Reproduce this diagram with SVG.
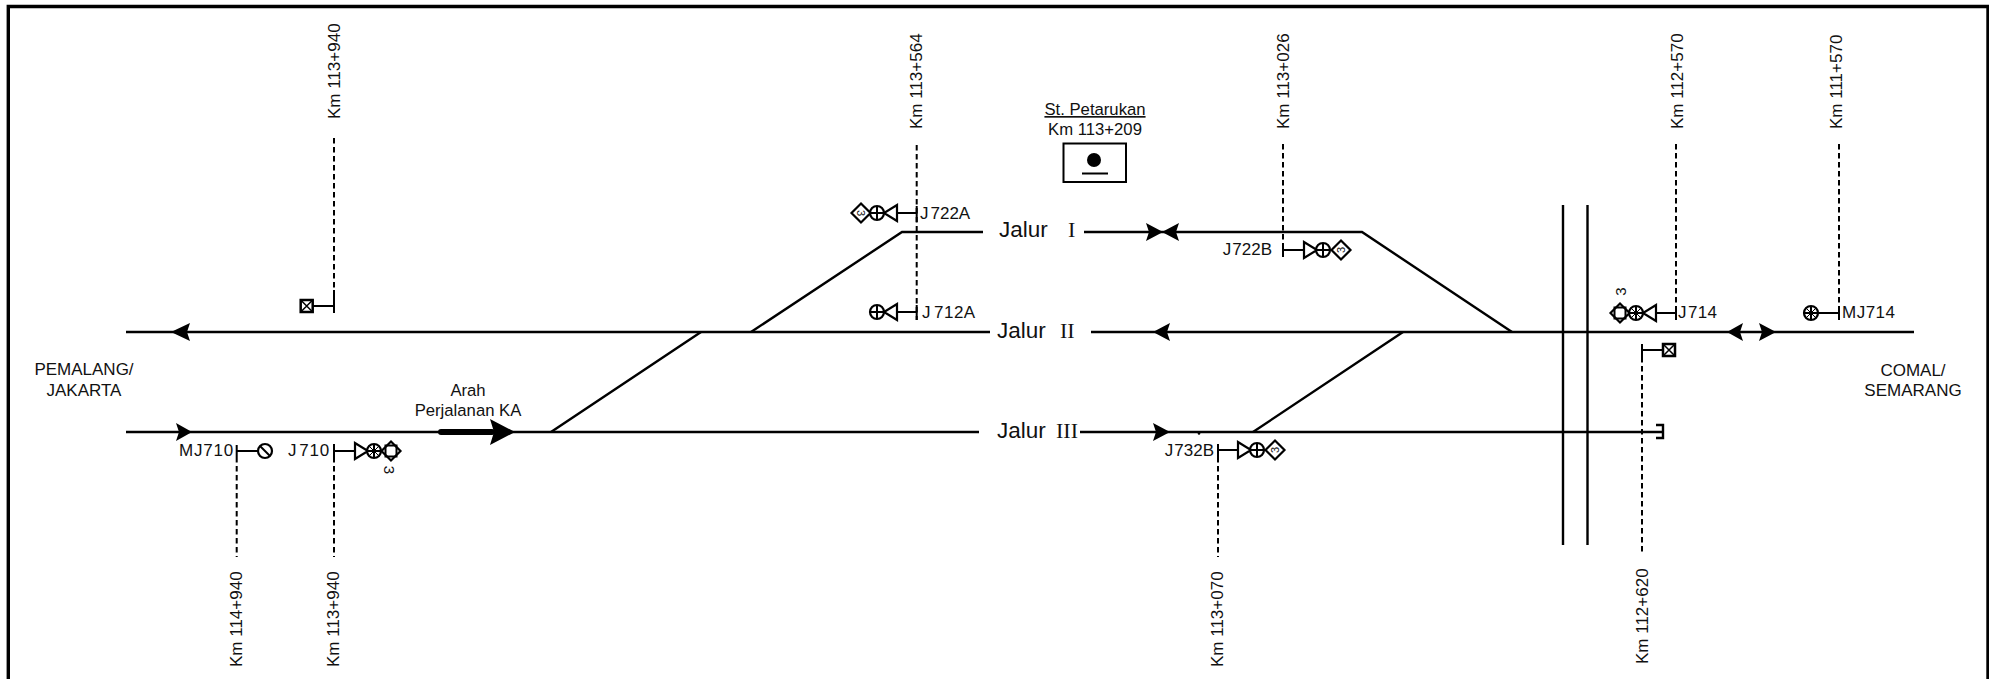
<svg xmlns="http://www.w3.org/2000/svg" width="1989" height="679" viewBox="0 0 1989 679">
<style>
text{font-family:"Liberation Sans",Arial,sans-serif;font-size:17px;fill:#111}
.jl{font-size:22.500px}
.rm{font-family:"Liberation Serif","Times New Roman",serif;font-size:22px}
.sm{font-size:16.700px}
.mid{text-anchor:middle}
.end{text-anchor:end}
.t{fill:none;stroke:#000;stroke-width:2.400}
.s{fill:none;stroke:#000;stroke-width:2}
.d{fill:none;stroke:#000;stroke-width:2;stroke-dasharray:5.500 3.500}
.h{fill:#000;stroke:none}
.o{fill:#fff;stroke:#000;stroke-width:2.200}
</style>
<defs>
<g id="trL"><path class="o" d="M0-8V8L-13 0Z"/></g>
<g id="trR"><path class="o" d="M0-8V8L13 0Z"/></g>
<g id="cc"><circle class="o" r="7"/><path class="s" d="M-7 0H7M0-7V7"/></g>
<g id="cx"><circle class="o" r="7"/><path class="s" stroke-width="1.500" d="M-7 0H7M0-7V7"/><path d="M-5-5 5 5M-5 5 5-5" stroke="#000" stroke-width="1"/></g>
<g id="dm"><path class="o" d="M0-9.500 9.500 0 0 9.500-9.500 0Z"/></g>
<g id="ds"><path class="o" d="M0-9.500 9.500 0 0 9.500-9.500 0Z"/><rect class="s" x="-5.500" y="-5.500" width="11" height="11"/></g>
<g id="bx"><rect x="-6" y="-6" width="12" height="12" fill="#fff" stroke="#000" stroke-width="2.500"/><path stroke="#000" stroke-width="1.500" d="M-6-6 6 6M-6 6 6-6"/></g>
</defs>

<g id="border"><path d="M8.300 679V6.500H1988V679" fill="none" stroke="#000" stroke-width="3.400"/></g>

<g id="connectors">
<path class="t" d="M126 432H979M1080 432H1663"/>
<path class="t" d="M126 332H990M1091 332H1914"/>
<path class="t" d="M751 332 902 232H983M1084 232H1362L1512 332"/>
<path class="t" d="M701 332 551 432M1403 332 1253 432"/>
<path class="t" d="M1563 205V545M1587.500 205V545"/>
<path class="t" d="M1656 425H1663V438H1656"/>
<path d="M441 432H492" fill="none" stroke="#000" stroke-width="6" stroke-linecap="round"/>
<path class="h" d="M490 419 515 432 490 445 494 432Z"/>
<path class="h" d="M176 423 192 432 176 441 179 432Z"/>
<path class="h" d="M190 323 171 332 190 341 187 332Z"/>
<path class="h" d="M1146 223 1163 232 1146 241 1149 232Z"/>
<path class="h" d="M1179 223 1162 232 1179 241 1176 232Z"/>
<path class="h" d="M1170 323 1153 332 1170 341 1167 332Z"/>
<path class="h" d="M1153 423 1170 432 1153 441 1156 432Z"/>
<path class="h" d="M1743 323 1727 332 1743 341 1740 332Z"/>
<path class="h" d="M1759 323 1776 332 1759 341 1762 332Z"/>
<circle class="h" cx="1199" cy="433.500" r="1.300"/>
<path class="d" d="M334 138V292M916.700 145V320M1283 144V243M1676 144V306M1839 144V306"/>
<path class="d" d="M236.700 457V557M334 457V557M1218 457V557M1642 357V555"/>
</g>

<g id="sig-km-top">
<text transform="translate(340 119) rotate(-90)">Km 113+940</text>
<text transform="translate(922 129) rotate(-90)">Km 113+564</text>
<text transform="translate(1289 129) rotate(-90)">Km 113+026</text>
<text transform="translate(1683 129) rotate(-90)">Km 112+570</text>
<text transform="translate(1842 129) rotate(-90)">Km 111+570</text>
</g>
<g id="sig-km-bottom">
<text transform="translate(242 667) rotate(-90)">Km 114+940</text>
<text transform="translate(339 667) rotate(-90)">Km 113+940</text>
<text transform="translate(1223 667) rotate(-90)">Km 113+070</text>
<text transform="translate(1648 664) rotate(-90)">Km 112+620</text>
</g>

<g id="station">
<text class="mid sm" x="1095" y="115" text-decoration="underline">St. Petarukan</text>
<text class="mid sm" x="1095" y="135">Km 113+209</text>
<rect x="1063.500" y="143.500" width="62.500" height="38.500" fill="#fff" stroke="#000" stroke-width="2"/>
<circle class="h" cx="1094" cy="160" r="7"/>
<path class="s" d="M1082 173.500H1108"/>
</g>

<g id="jalur-1"><text class="jl" x="999" y="237">Jalur</text><text class="rm" x="1068" y="237">I</text></g>
<g id="jalur-2"><text class="jl" x="997" y="338">Jalur</text><text class="rm" x="1060" y="338">II</text></g>
<g id="jalur-3"><text class="jl" x="997" y="438">Jalur</text><text class="rm" x="1056" y="438">III</text></g>

<g id="label-pemalang"><text class="mid" x="84" y="375">PEMALANG/</text><text class="mid" x="84" y="396">JAKARTA</text></g>
<g id="label-comal"><text class="mid" x="1913" y="376">COMAL/</text><text class="mid" x="1913" y="396">SEMARANG</text></g>
<g id="label-arah"><text class="mid sm" x="468" y="396">Arah</text><text class="mid sm" x="468" y="416">Perjalanan KA</text></g>

<g id="MJ710">
<text class="end" x="234" y="456" style="letter-spacing:.8px">MJ710</text>
<path class="s" d="M236.700 445V457M236.700 451H258"/>
<circle class="o" cx="265" cy="451" r="7" stroke-width="2.500"/><path class="s" d="M260 446 270 456"/>
</g>
<g id="J710">
<text class="end" x="330" y="456" style="letter-spacing:.8px">J<tspan dx="2">710</tspan></text>
<path class="s" d="M334 444V457M334 451H355"/>
<use href="#trR" x="355" y="451"/><use href="#cx" x="374" y="451"/><use href="#ds" x="391" y="451"/>
<text class="mid" style="font-size:15px" transform="translate(383.600 470) rotate(90)">3</text>
</g>
<g id="sig-box-left">
<path class="s" d="M334 290V313M313 306H334"/><use href="#bx" x="306.700" y="306"/>
</g>
<g id="J722A">
<text x="920" y="219">J<tspan dx="2">722A</tspan></text>
<path class="s" d="M916.700 206V222M916.700 213H897"/>
<use href="#trL" x="897" y="213"/><use href="#cc" x="877" y="213"/><use href="#dm" x="861" y="213"/>
<text class="mid" style="font-size:11px" transform="translate(857 213) rotate(90)">3</text>
</g>
<g id="J712A">
<text x="922" y="318" style="letter-spacing:.5px">J<tspan dx="3">712A</tspan></text>
<path class="s" d="M916.700 305V320M916.700 312H897"/>
<use href="#trL" x="897" y="312"/><use href="#cc" x="877" y="312"/>
</g>
<g id="J722B">
<text class="end" x="1272" y="255">J<tspan dx="1">722B</tspan></text>
<path class="s" d="M1283 243V257M1283 250H1304"/>
<use href="#trR" x="1304" y="250"/><use href="#cc" x="1323" y="250"/><use href="#dm" x="1341" y="250"/>
<text class="mid" style="font-size:11px" transform="translate(1345 250) rotate(-90)">3</text>
</g>
<g id="J732B">
<text class="end" x="1214" y="456">J<tspan dx="1">732B</tspan></text>
<path class="s" d="M1218 444V457M1218 450H1238"/>
<use href="#trR" x="1238" y="450"/><use href="#cc" x="1257" y="450"/><use href="#dm" x="1275" y="450"/>
<text class="mid" style="font-size:11px" transform="translate(1279 450) rotate(-90)">3</text>
</g>
<g id="J714">
<text x="1678" y="318" style="letter-spacing:.4px">J<tspan dx="1">714</tspan></text>
<path class="s" d="M1676 306V320M1676 313H1656"/>
<use href="#trL" x="1656" y="313"/><use href="#cx" x="1636" y="313"/><use href="#ds" x="1620" y="313"/>
<text class="mid" style="font-size:15px" transform="translate(1626 291.700) rotate(-90)">3</text>
</g>
<g id="MJ714">
<text x="1842" y="318" style="letter-spacing:.5px">MJ714</text>
<path class="s" d="M1839 306V320M1839 313H1818"/>
<use href="#cx" x="1811" y="313"/>
</g>
<g id="sig-box-right">
<path class="s" d="M1642 344V357M1642 350H1663"/><use href="#bx" x="1669" y="350"/>
</g>
</svg>
